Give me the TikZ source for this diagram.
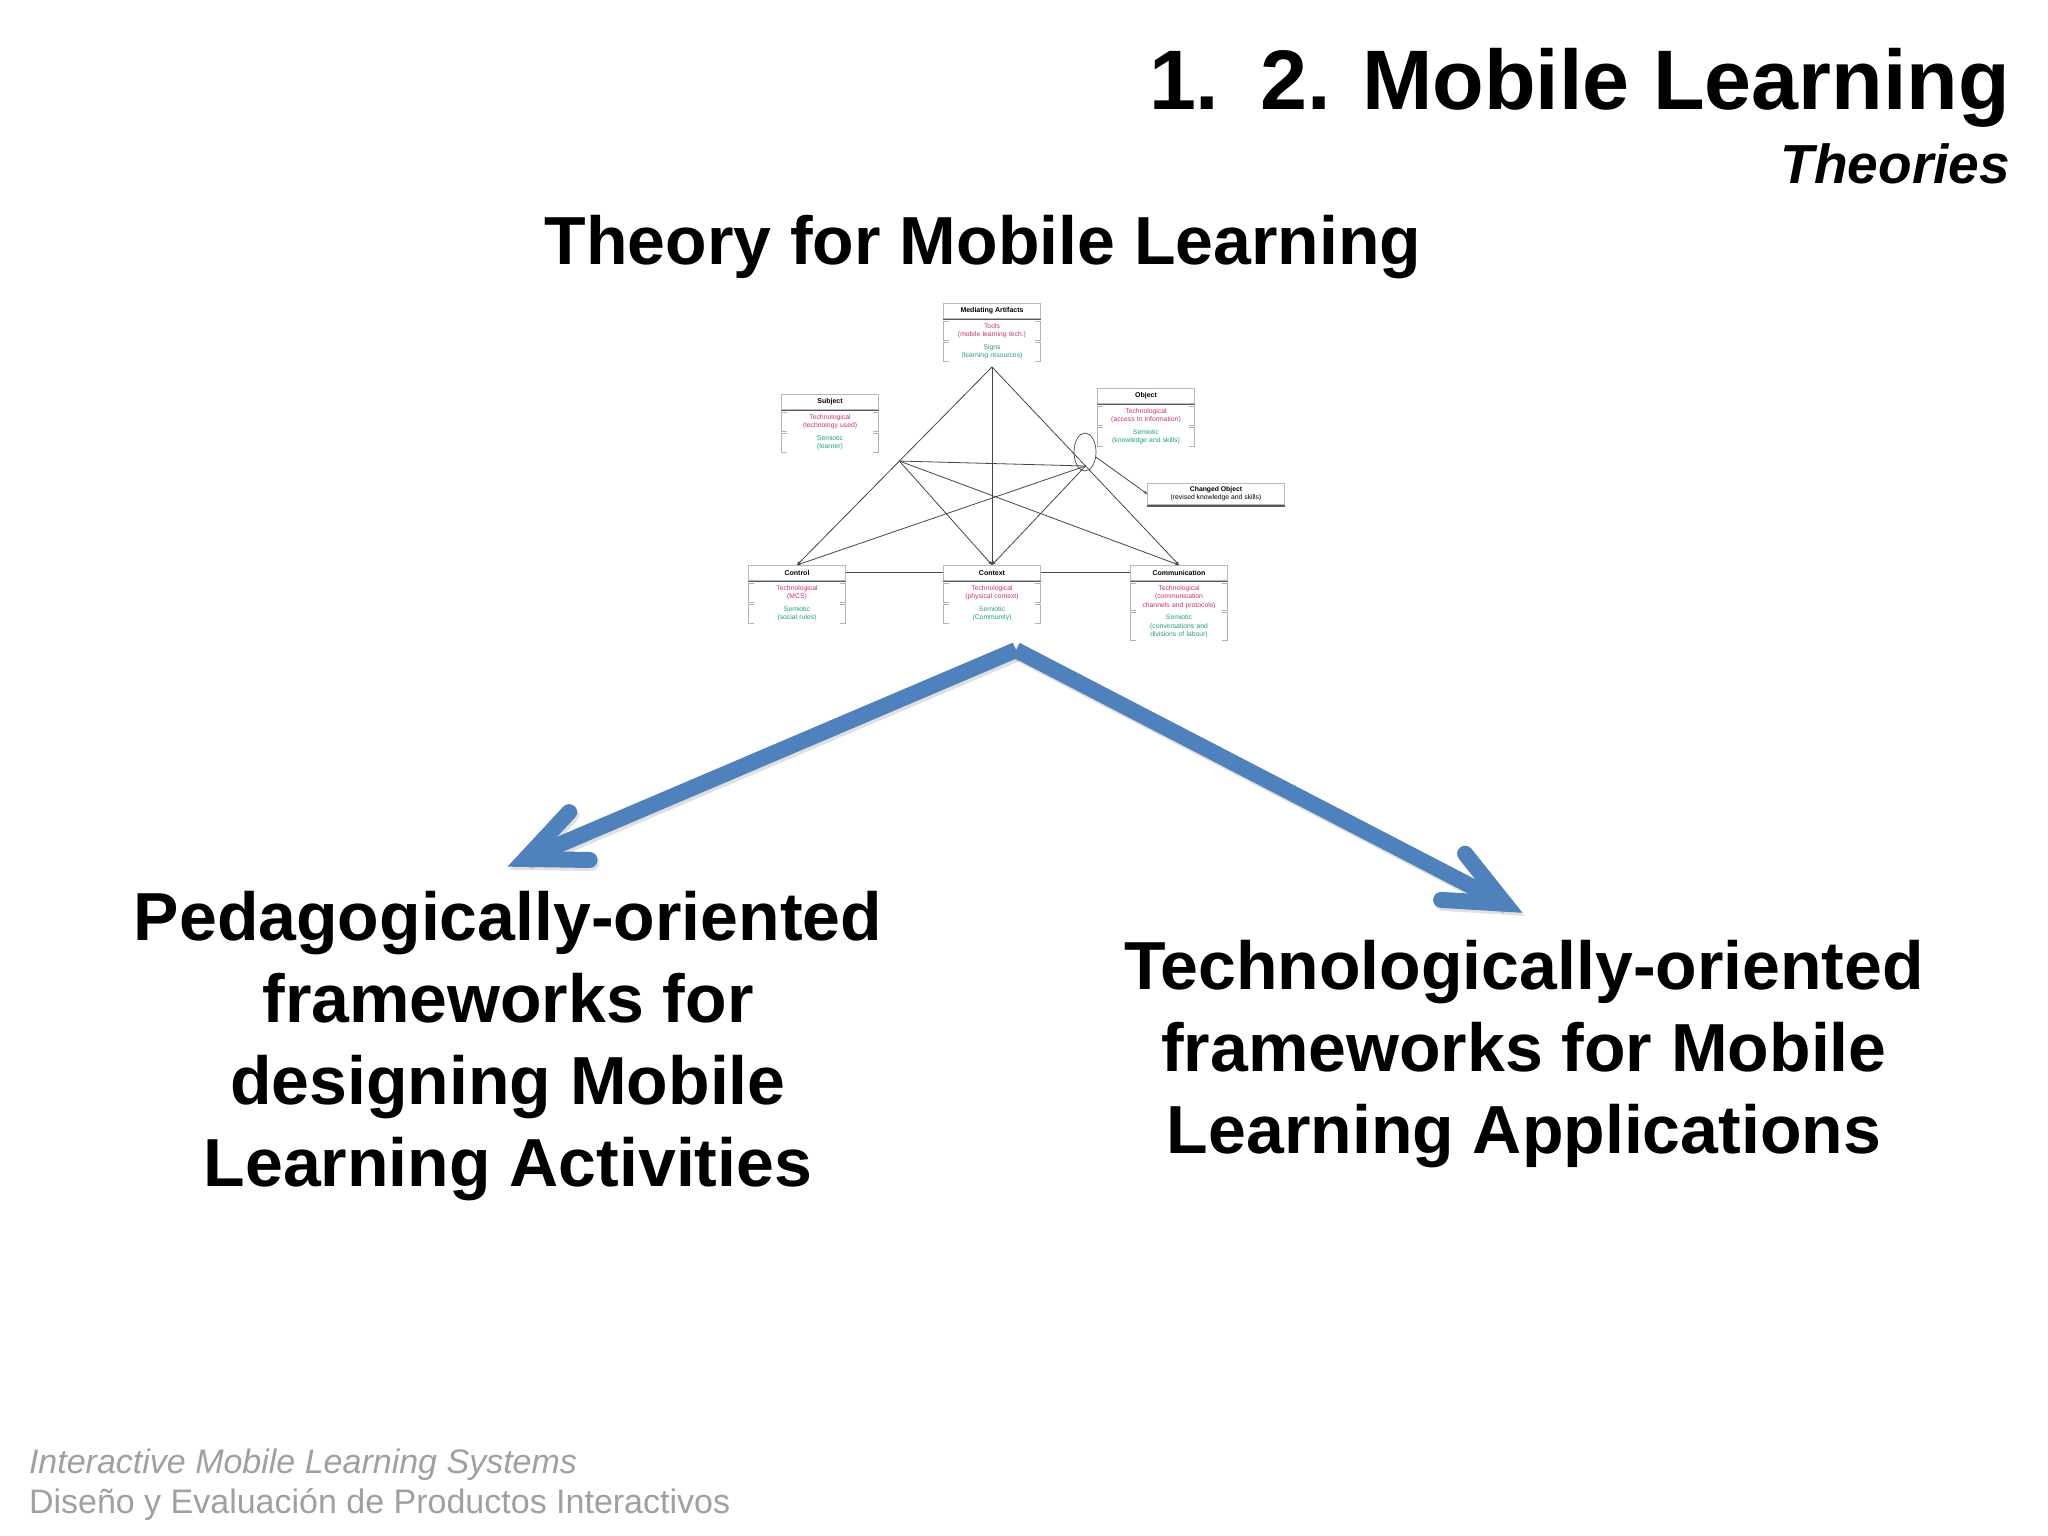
\documentclass[tikz,border=0pt]{standalone}
\usepackage{fontspec}
\setmainfont{Liberation Sans}
\usetikzlibrary{calc,arrows.meta,shapes.geometric}
\definecolor{arrowblue}{RGB}{79,129,189}
\definecolor{techred}{RGB}{200,55,90}
\definecolor{semgreen}{RGB}{30,160,120}
\definecolor{footgray}{RGB}{160,160,160}
\tikzset{
  plain/.style={inner sep=0pt, outer sep=0pt},
  bigtext/.style={plain, align=center, font=\fontsize{68}{82}\selectfont\bfseries},
  foot/.style={plain, text=footgray, anchor=base west},
  boxtitle/.style={draw=gray!55, fill=white, minimum width=97pt, minimum height=15pt,
    inner sep=0pt, anchor=north, font=\fontsize{7}{7}\selectfont\bfseries},
  boxshade/.style={draw=gray!70!black, line width=1.6pt},
  secbox/.style={text width=88pt, align=center, inner xsep=4.5pt, inner ysep=2pt,
    font=\fontsize{6.8}{8.3}\selectfont},
  brk/.style={draw=gray!60, line width=0.7pt},
  tri/.style={draw=gray!55!black, line width=0.8pt},
  trihead/.style={tri, -{Stealth[length=4pt,width=3pt]}},
  bigarrow/.style={draw=arrowblue, line width=16pt},
  arrowshadow/.style={draw=black, opacity=0.12, line width=16pt}
}
\newcommand{\mlbrk}[1]{%
  \draw[brk] ([xshift=6pt]#1.north west) -- (#1.north west) -- (#1.south west) -- ([xshift=6pt]#1.south west);
  \draw[brk] ([xshift=-6pt]#1.north east) -- (#1.north east) -- (#1.south east) -- ([xshift=-6pt]#1.south east);}
\newcommand{\actbox}[8]{%
  \node[boxtitle] (#1) at (#2,#3) {#4};
  \draw[boxshade] ([yshift=-1pt]#1.south west) -- ([yshift=-1pt]#1.south east);
  \node[secbox, text=techred, anchor=north] (#1-t) at ([yshift=-3pt]#1.south) {#5\\#6};
  \node[secbox, text=semgreen, anchor=north] (#1-s) at ([yshift=-2pt]#1-t.south) {#7\\#8};
  \mlbrk{#1-t}\mlbrk{#1-s}}
\begin{document}
\begin{tikzpicture}[x=1pt, y=-1pt]
\path[use as bounding box, fill=white] (0,0) rectangle (2048,1536);

% headings
\node[plain, anchor=base west, font=\fontsize{84.5}{86}\selectfont\bfseries] (num) at (1149,110) {1.};
\node[plain, anchor=base east, font=\fontsize{84.5}{86}\selectfont\bfseries] (title) at (2010,110) {2. Mobile Learning};
\node[plain, anchor=base east, font=\fontsize{55}{55}\selectfont\bfseries\itshape] (theories) at (2010,183) {Theories};
\node[plain, anchor=base, font=\fontsize{68}{68}\selectfont\bfseries] (tml) at (983,264) {Theory for Mobile Learning};

% small activity diagram
\actbox{ma}{992}{303}{Mediating Artifacts}{Tools}{(mobile learning tech.)}{Signs}{(learning resources)}
\actbox{subj}{830}{394}{Subject}{Technological}{(technology used)}{Semiotic}{(learner)}
\actbox{obj}{1146}{388}{Object}{Technological}{(access to information)}{Semiotic}{(knowledge and skills)}
\actbox{ctrl}{797}{565}{Control}{Technological}{(MCS)}{Semiotic}{(social rules)}
\actbox{ctx}{992}{565}{Context}{Technological}{(physical context)}{Semiotic}{(Community)}
\actbox{comm}{1179}{565}{Communication}{Technological}{(communication\\channels and protocols)}{Semiotic}{(conversations and\\divisions of labour)}

\node[draw=gray!55, fill=white, minimum width=137pt, minimum height=21pt, inner sep=0pt,
  align=center, font=\fontsize{6.8}{8}\selectfont] (chg) at (1216,494)
  {\textbf{Changed Object}\\(revised knowledge and skills)};
\draw[boxshade] ([yshift=-1pt]chg.south west) -- ([yshift=-1pt]chg.south east);

\coordinate (apexs) at (992,367);
\coordinate (L) at ($(apexs)!0.475!(ctrl.north)$);
\coordinate (R) at ($(apexs)!0.5!(comm.north)$);
\draw[trihead] (apexs) -- (ctrl.north);
\draw[trihead] (apexs) -- (ctx.north);
\draw[trihead] (apexs) -- (comm.north);
\draw[tri] (L) -- (R);
\draw[trihead] (L) -- (ctx.north);
\draw[trihead] (L) -- (comm.north);
\draw[trihead] (R) -- (ctx.north);
\draw[trihead] (R) -- (ctrl.north);
\draw[tri] (ctrl.east) -- (ctx.west);
\draw[tri] (ctx.east) -- (comm.west);
\node[draw=gray!55!black, line width=0.7pt, ellipse, minimum width=22pt, minimum height=38pt, inner sep=0pt] (ell) at (1085,452) {};
\draw[trihead] (ell.-25) -- (chg.west);

% big arrows
\coordinate (apex) at (1016,650);
\coordinate (tipL) at (509,866);
\coordinate (tipR) at (1521,912);
\coordinate (vL) at ($(tipL)!18pt!(apex)$);
\coordinate (vR) at ($(tipR)!18pt!(apex)$);
\coordinate (aL1) at ($(vL)!64pt!24:(apex)$);
\coordinate (aL2) at ($(vL)!64pt!-24:(apex)$);
\coordinate (aR1) at ($(vR)!64pt!24:(apex)$);
\coordinate (aR2) at ($(vR)!64pt!-24:(apex)$);
\begin{scope}[transform canvas={shift={(2pt,-3pt)}}]
\draw[arrowshadow, line cap=butt] (apex) -- (vL);
\draw[arrowshadow, line cap=butt] (apex) -- (vR);
\draw[arrowshadow, line cap=round, line join=miter] (aL1) -- (vL) -- (aL2);
\draw[arrowshadow, line cap=round, line join=miter] (aR1) -- (vR) -- (aR2);
\end{scope}
\draw[bigarrow, line cap=butt] (apex) -- (vL);
\draw[bigarrow, line cap=butt] (apex) -- (vR);
\draw[bigarrow, line cap=round, line join=miter] (aL1) -- (vL) -- (aL2);
\draw[bigarrow, line cap=round, line join=miter] (aR1) -- (vR) -- (aR2);

% framework texts (base anchor = baseline of last line)
\node[bigtext, anchor=base] (ped) at (508,1186) {Pedagogically-oriented\\frameworks for\\designing Mobile\\Learning Activities};
\node[bigtext, anchor=base] (tech) at (1524,1153) {Technologically-oriented\\frameworks for Mobile\\Learning Applications};

% footer
\node[foot, font=\fontsize{34}{34}\selectfont\itshape] (f1) at (29,1473) {Interactive Mobile Learning Systems};
\node[foot, font=\fontsize{34}{34}\selectfont] (f2) at (29,1513) {Diseño y Evaluación de Productos Interactivos};
\end{tikzpicture}
\end{document}
